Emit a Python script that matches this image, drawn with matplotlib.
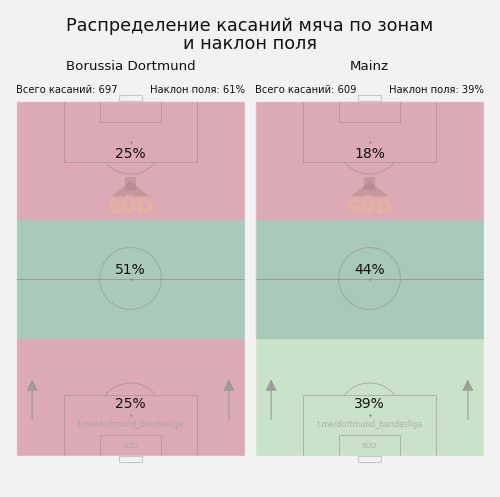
import matplotlib.pyplot as plt
from matplotlib.patches import Rectangle, Arc, Circle, Polygon

# data
teams = ["Borussia Dortmund", "Mainz"]
total_touches = [697, 609]
field_tilt = [61, 39]
# zone shares, from own goal (bottom) to attacking third (top)
zone_pct = [[25, 51, 25], [39, 44, 18]]
zone_colors = [["#dcaab4", "#a9cabb", "#dcaab4"],
               ["#c9e2c8", "#a8c8b9", "#dcaab4"]]

BG = "#f2f2f2"
LINE = "#9a8f92"
L, W = 105, 68


def draw_pitch(ax, colors):
    for i, c in enumerate(colors):
        ax.add_patch(Rectangle((0, i * L / 3), W, L / 3, color=c, zorder=0))
    kw = dict(fill=False, ec=LINE, lw=0.7, alpha=0.6, zorder=1)
    # penalty areas and 6-yard boxes
    pw, pd = 39.5, 18
    gw, gd = 18.1, 6.2
    ax.add_patch(Rectangle(((W - pw) / 2, 0), pw, pd, **kw))
    ax.add_patch(Rectangle(((W - pw) / 2, L - pd), pw, pd, **kw))
    ax.add_patch(Rectangle(((W - gw) / 2, 0), gw, gd, **kw))
    ax.add_patch(Rectangle(((W - gw) / 2, L - gd), gw, gd, **kw))
    ax.plot([0, W], [L / 2, L / 2], color=LINE, lw=0.7, alpha=0.8, zorder=1)
    ax.add_patch(Circle((W / 2, L / 2), 9.15, **kw))
    r = 9.6
    ax.add_patch(Arc((W / 2, 12), 2 * r, 2 * r, theta1=39, theta2=141, ec=LINE, lw=0.7, alpha=0.6))
    ax.add_patch(Arc((W / 2, L - 12), 2 * r, 2 * r, theta1=219, theta2=321, ec=LINE, lw=0.7, alpha=0.6))
    for y in (12, L / 2, L - 12):
        ax.plot(W / 2, y, marker="o", ms=0.8, color=LINE, zorder=1)
    # outline and goals
    ax.add_patch(Rectangle((0, 0), W, L, fill=False, ec="white", lw=1.0, alpha=0.7, zorder=2))
    gkw = dict(fill=False, ec="#c8c8c8", lw=0.8, clip_on=False, zorder=2)
    ax.add_patch(Rectangle((W / 2 - 3.3, -1.9), 6.6, 1.9, **gkw))
    ax.add_patch(Rectangle((W / 2 - 3.3, L), 6.6, 1.9, **gkw))
    # direction arrows
    for x in (4.8, 63.2):
        ax.annotate("", xy=(x, 23.5), xytext=(x, 10),
                    arrowprops=dict(arrowstyle="-|>", color="#9a9a9a", lw=0.9,
                                    mutation_scale=17, alpha=0.9))
    # watermark
    ax.text(W / 2, 9.2, "t.me/dortmund_bundesliga", ha="center", va="center",
            fontsize=5.6, color="#a0a0a0", alpha=0.7)
    ax.text(W / 2, 3.2, "SÜD", ha="center", va="center", fontsize=5.2,
            color="#a0a0a0", alpha=0.7)
    ax.text(W / 2, 73.6, "SÜD", ha="center", va="center", fontsize=14,
            fontweight="bold", color="#f0b88a", alpha=0.55)
    ax.add_patch(Polygon([[W / 2 - 5.5, 76.8], [W / 2, 81.3], [W / 2 + 5.5, 76.8]],
                         closed=True, color="#a88080", alpha=0.45, lw=0))
    ax.add_patch(Rectangle((W / 2 - 1.5, 78.8), 3.0, 3.8, color="#a88080", alpha=0.45, lw=0))
    ax.set_xlim(0, W)
    ax.set_ylim(0, L)
    ax.axis("off")


fig = plt.figure(figsize=(5, 4.97), dpi=100, facecolor=BG)
fig.text(0.5, 1 - 35 / 497, "Распределение касаний мяча по зонам\nи наклон поля",
         ha="center", va="center", fontsize=12.7, linespacing=1.05, color="#111111")

lefts = [16, 255]
text_y = [15.4, 55, 89.3]
for k in range(2):
    ax = fig.add_axes([lefts[k] / 500, 41 / 497, 229 / 500, 355 / 497])
    draw_pitch(ax, zone_colors[k])
    for y, p in zip(text_y, zone_pct[k]):
        ax.text(W / 2, y, f"{p}%", ha="center", va="center", fontsize=10, color="#111111", zorder=3)
    cx = (lefts[k] + 114.5) / 500
    fig.text(cx, 1 - 67 / 497, teams[k], ha="center", va="center", fontsize=9.6, color="#111111")
    fig.text(lefts[k] / 500, 1 - 90 / 497, f"Всего касаний: {total_touches[k]}",
             ha="left", va="center", fontsize=7.2, color="#111111")
    fig.text((lefts[k] + 229) / 500, 1 - 90 / 497, f"Наклон поля: {field_tilt[k]}%",
             ha="right", va="center", fontsize=7.2, color="#111111")

fig.savefig("out.png", dpi=100, facecolor=BG)
